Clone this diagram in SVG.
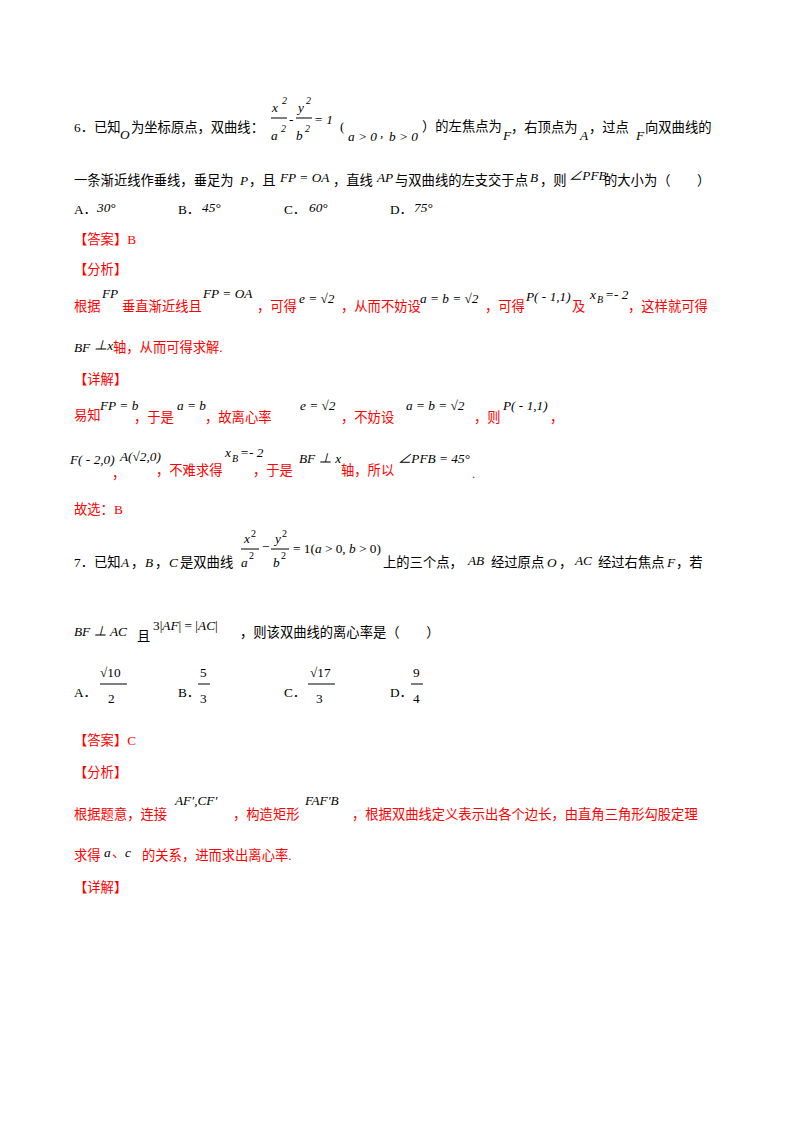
<svg xmlns="http://www.w3.org/2000/svg" width="800" height="1132" viewBox="0 0 800 1132">
<style>
text{font-family:"Liberation Serif","Noto Sans CJK SC",serif;font-size:13.3px;fill:#000}
.i{font-style:italic}
.s{font-size:10px}
.r{fill:#f00}
line{stroke:#000;stroke-width:1}
</style>
<rect width="800" height="1132" fill="#fff"/>
<g id="q6">
<text x="74" y="132">6．已知</text>
<text x="120" y="139" class="i">O</text>
<text x="131" y="132">为坐标原点，双曲线：</text>
<text x="272" y="112" class="i">x</text><text x="282" y="104" class="s i">2</text>
<line x1="271" y1="118" x2="287" y2="118"/>
<text x="271" y="140" class="i">a</text><text x="281" y="132" class="s i">2</text>
<text x="289" y="124">-</text>
<text x="298" y="112" class="i">y</text><text x="306" y="104" class="s i">2</text>
<line x1="296" y1="118" x2="312" y2="118"/>
<text x="296" y="140" class="i">b</text><text x="305" y="132" class="s i">2</text>
<text x="314" y="124" class="i">= 1</text>
<text x="340" y="131">(</text>
<text x="348" y="141" class="i">a &gt; 0</text><text x="380" y="137" class="i">,</text><text x="389" y="141" class="i">b &gt; 0</text>
<text x="422" y="131">）的左焦点为</text>
<text x="503" y="140" class="i">F</text>
<text x="511" y="132">，右顶点为</text>
<text x="580" y="140" class="i">A</text>
<text x="589" y="132">，过点</text>
<text x="636" y="140" class="i">F</text>
<text x="645" y="132">向双曲线的</text>
<text x="74" y="185">一条渐近线作垂线，垂足为</text><text x="240" y="185" class="i">P</text>
<text x="249" y="185">，且</text><text x="280" y="182" class="i">FP = OA</text>
<text x="333" y="185">，直线</text><text x="377" y="182" class="i">AP</text>
<text x="395" y="185">与双曲线的左支交于点</text><text x="530" y="182" class="i">B</text>
<text x="540" y="185">，则</text><text x="569" y="180" class="i">∠PFB</text>
<text x="604" y="185">的大小为（　　）</text>
<text x="74" y="214">A．</text><text x="97" y="212" class="i">30°</text>
<text x="178" y="214">B．</text><text x="202" y="212" class="i">45°</text>
<text x="284" y="214">C．</text><text x="309" y="212" class="i">60°</text>
<text x="390" y="214">D．</text><text x="414" y="212" class="i">75°</text>
</g>
<g id="a6">
<text x="74" y="244" class="r">【答案】B</text>
<text x="74" y="274" class="r">【分析】</text>
<text x="74" y="311" class="r">根据</text><text x="102" y="298" class="i">FP</text>
<text x="122" y="311" class="r">垂直渐近线且</text><text x="203" y="298" class="i">FP = OA</text>
<text x="257" y="311" class="r">，可得</text><text x="299" y="303" class="i">e = √2</text>
<text x="341" y="311" class="r">，从而不妨设</text><text x="420" y="303" class="i">a = b = √2</text>
<text x="485" y="311" class="r">，可得</text><text x="526" y="301" class="i">P( - 1,1)</text>
<text x="572" y="311" class="r">及</text><text x="590" y="299" class="i">x</text><text x="597" y="303" class="s i">B</text><text x="605" y="299" class="i">=- 2</text>
<text x="628" y="311" class="r">，这样就可得</text>
<text x="74" y="352" class="i">BF</text><text x="94" y="350" class="i">⊥x</text>
<text x="113" y="352" class="r">轴，从而可得求解.</text>
<text x="74" y="384" class="r">【详解】</text>
<text x="74" y="420" class="r">易知</text><text x="100" y="410" class="i">FP = b</text>
<text x="134" y="422" class="r">，于是</text><text x="177" y="410" class="i">a = b</text>
<text x="205" y="422" class="r">，故离心率</text><text x="300" y="410" class="i">e = √2</text>
<text x="341" y="422" class="r">，不妨设</text><text x="406" y="410" class="i">a = b = √2</text>
<text x="474" y="422" class="r">，则</text><text x="503" y="410" class="i">P( - 1,1)</text>
<text x="550" y="422" class="r">，</text>
<text x="70" y="464" class="i">F( - 2,0)</text><text x="112" y="478" class="r">，</text>
<text x="120" y="461" class="i">A(√2,0)</text><text x="156" y="475" class="r">，不难求得</text>
<text x="225" y="457" class="i">x</text><text x="232" y="462" class="s i">B</text><text x="240" y="457" class="i">=- 2</text>
<text x="253" y="475" class="r">，于是</text><text x="299" y="463" class="i">BF ⊥ x</text>
<text x="341" y="475" class="r">轴，所以</text><text x="398" y="463" class="i">∠PFB = 45°</text>
<text x="472" y="478" class="r">.</text>
<text x="74" y="514" class="r">故选：B</text>
</g>
<g id="q7">
<text x="74" y="567">7．已知</text><text x="121" y="567" class="i">A</text><text x="131" y="567">，</text>
<text x="145" y="567" class="i">B</text><text x="155" y="567">，</text><text x="169" y="567" class="i">C</text>
<text x="180" y="567">是双曲线</text>
<text x="244" y="543" class="i">x</text><text x="251" y="537" class="s">2</text>
<line x1="241" y1="549" x2="259" y2="549"/>
<text x="241" y="567" class="i">a</text><text x="249" y="559" class="s">2</text>
<text x="262" y="551">−</text>
<text x="275" y="543" class="i">y</text><text x="282" y="537" class="s">2</text>
<line x1="271" y1="549" x2="289" y2="549"/>
<text x="273" y="567" class="i">b</text><text x="281" y="559" class="s">2</text>
<text x="293" y="553">= 1(<tspan class="i">a</tspan> &gt; 0, <tspan class="i">b</tspan> &gt; 0)</text>
<text x="383" y="567">上的三个点，</text><text x="468" y="565" class="i" font-size="15">AB</text>
<text x="491" y="567">经过原点</text><text x="547" y="567" class="i">O</text>
<text x="559" y="567">，</text><text x="575" y="565" class="i" font-size="15">AC</text>
<text x="598" y="567">经过右焦点</text><text x="667" y="567" class="i">F</text><text x="676" y="567">，若</text>
<text x="74" y="636" class="i" font-size="15">BF ⊥ AC</text>
<text x="137" y="641">且</text>
<text x="153" y="630" font-size="15">3|<tspan class="i">AF</tspan>| = |<tspan class="i">AC</tspan>|</text>
<text x="240" y="637">，则该双曲线的离心率是（　　）</text>
<text x="74" y="697">A．</text>
<text x="100" y="677" font-size="15">√10</text><line x1="100" y1="684" x2="127" y2="684"/><text x="108" y="703" font-size="15">2</text>
<text x="178" y="697">B．</text>
<text x="200" y="677" font-size="15">5</text><line x1="198" y1="684" x2="210" y2="684"/><text x="200" y="703" font-size="15">3</text>
<text x="284" y="697">C．</text>
<text x="310" y="677" font-size="15">√17</text><line x1="308" y1="684" x2="335" y2="684"/><text x="316" y="703" font-size="15">3</text>
<text x="390" y="697">D．</text>
<text x="413" y="677" font-size="15">9</text><line x1="411" y1="684" x2="423" y2="684"/><text x="413" y="703" font-size="15">4</text>
</g>
<g id="a7">
<text x="74" y="745" class="r">【答案】C</text>
<text x="74" y="777" class="r">【分析】</text>
<text x="74" y="819" class="r">根据题意，连接</text><text x="175" y="805" class="i" font-size="15">AF′,CF′</text>
<text x="233" y="819" class="r">，构造矩形</text><text x="305" y="805" class="i" font-size="15">FAF′B</text>
<text x="352" y="819" class="r">，根据双曲线定义表示出各个边长，由直角三角形勾股定理</text>
<text x="74" y="860" class="r">求得</text><text x="104" y="857" class="i" font-size="15">a</text><text x="112" y="857" class="r">、</text><text x="125" y="857" class="i" font-size="15">c</text>
<text x="142" y="860" class="r">的关系，进而求出离心率.</text>
<text x="74" y="892" class="r">【详解】</text>
</g>
</svg>
